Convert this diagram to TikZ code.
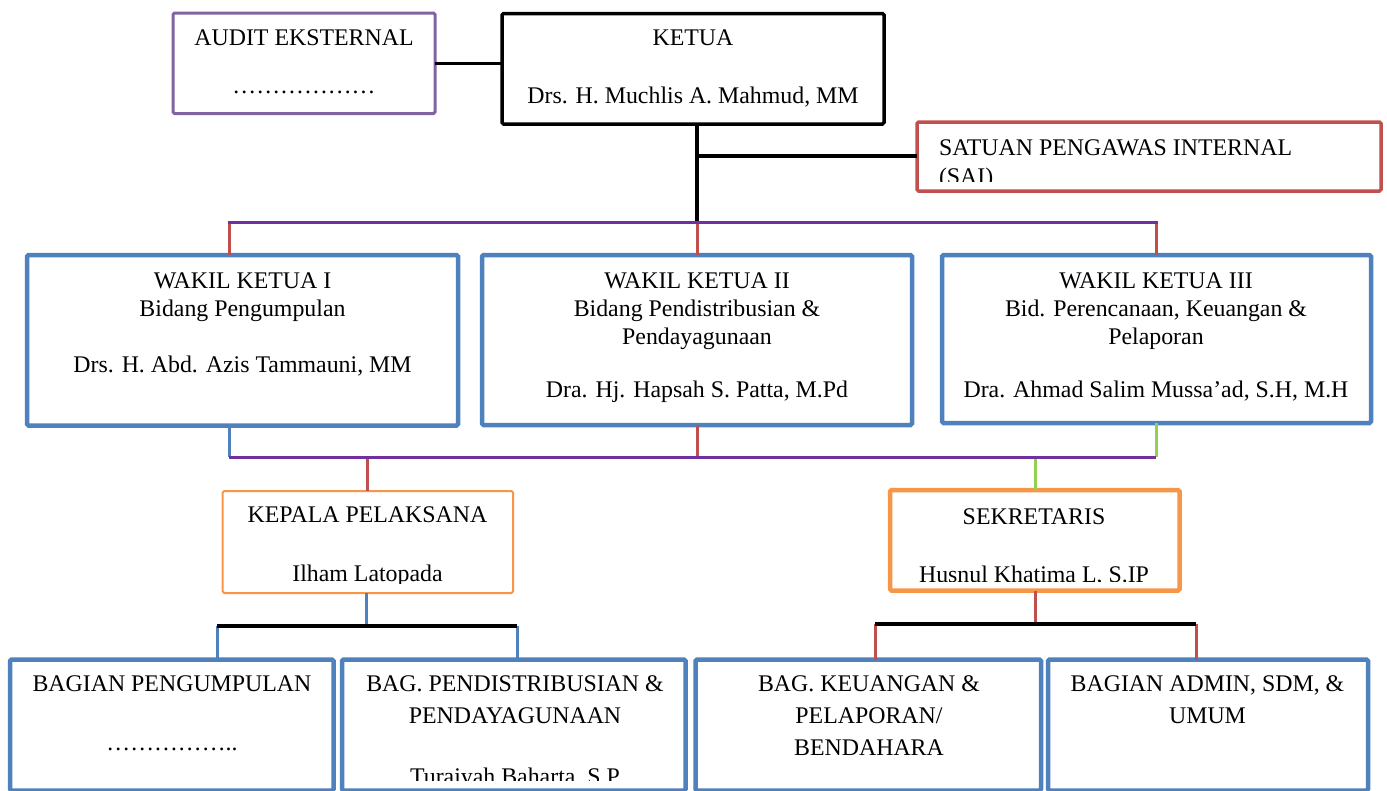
\documentclass[tikz,border=0pt]{standalone}
\usepackage{fontspec}
\setmainfont{Liberation Serif}
\definecolor{auditpurple}{HTML}{8064A2}
\definecolor{saired}{HTML}{C0504D}
\definecolor{boxblue}{HTML}{4F81BD}
\definecolor{boxorange}{HTML}{F79646}
\definecolor{buspurple}{HTML}{7030A0}
\definecolor{linkgreen}{HTML}{92D050}
\newcommand\orgfs{\fontsize{23.85pt}{28pt}\selectfont}
\newcommand\orgbox[6]{\node[#2, anchor=north west, minimum width={#5-#3}, minimum height={#6-#4}] (#1) at (#3,#4) {};}
\newcommand\tl[4]{\node[txt] (#1) at (#2,#3) {#4};}
\begin{document}
\begin{tikzpicture}[x=1pt,y=-1pt,
  bx/.style={draw, inner sep=0pt, outer sep=0pt, fill=white, rounded corners=1.5pt},
  txt/.style={inner sep=0pt, outer sep=0pt, anchor=base, font=\orgfs},
  txtl/.style={inner sep=0pt, outer sep=0pt, anchor=base west, font=\orgfs},
  blk/.style={draw=black, line width=3.5pt},
  pbus/.style={draw=buspurple, line width=3pt},
  rlink/.style={draw=saired, line width=3pt},
  blink/.style={draw=boxblue, line width=3pt},
  glink/.style={draw=linkgreen, line width=3pt}]
\useasboundingbox (0,0) rectangle (1387,790);

% boxes
\orgbox{audit}{bx, draw=auditpurple, line width=3pt}{173}{13}{435}{113.5}
\orgbox{ketua}{bx, draw=black, line width=3.5pt}{502}{13.5}{884}{124}
\orgbox{sai}{bx, draw=saired, line width=3.5pt}{917}{122}{1381}{191}
\orgbox{wk1}{bx, draw=boxblue, line width=4.5pt}{27}{255}{458}{425.5}
\orgbox{wk2}{bx, draw=boxblue, line width=4.5pt}{482}{255}{912}{425}
\orgbox{wk3}{bx, draw=boxblue, line width=4.5pt}{942}{255}{1371}{423}
\orgbox{kepala}{bx, draw=boxorange, line width=2pt}{222.7}{491}{513}{593}
\orgbox{sek}{bx, draw=boxorange, line width=4.5pt}{890}{490}{1179.5}{590.5}
\orgbox{bg1}{bx, draw=boxblue, line width=4.5pt}{10}{659.5}{333.5}{790.5}
\orgbox{bg2}{bx, draw=boxblue, line width=4.5pt}{342}{659.5}{685.5}{790.5}
\orgbox{bg3}{bx, draw=boxblue, line width=4.5pt}{695.5}{659.5}{1041}{790.5}
\orgbox{bg4}{bx, draw=boxblue, line width=4.5pt}{1048}{659.5}{1368}{790.5}

% bus coordinates
\coordinate (busAL) at (229,222);
\coordinate (busAM) at (697,222);
\coordinate (busAR) at (1156,222);
\coordinate (ksplit) at (697,156);
\coordinate (busBL) at (229,457);
\coordinate (busBM) at (697,457);
\coordinate (busBR) at (1156,457);
\coordinate (busBK) at (367,457);
\coordinate (busBS) at (1035.5,457);
\coordinate (busCL) at (217,626);
\coordinate (busCM) at (366,626);
\coordinate (busCR) at (517,626);
\coordinate (busDL) at (875,623.5);
\coordinate (busDM) at (1035,623.5);
\coordinate (busDR) at (1196,623.5);

% connectors top
\draw[blk] (audit.east) -- (audit.east -| ketua.west);
\draw[blk] (ketua.south -| busAM) -- (busAM);
\draw[blk] (ksplit) -- (ksplit -| sai.west);
\draw[rlink] (busAL) -- (busAL |- wk1.north);
\draw[rlink] (busAM) -- (busAM |- wk2.north);
\draw[rlink] (busAR) -- (busAR |- wk3.north);
\draw[pbus, line cap=rect] (busAL) -- (busAR);

% connectors middle
\draw[blink] (wk1.south -| busBL) -- (busBL);
\draw[rlink] (wk2.south -| busBM) -- (busBM);
\draw[glink] (wk3.south -| busBR) -- (busBR);
\draw[rlink] (busBK) -- (busBK |- kepala.north);
\draw[glink] (busBS) -- (busBS |- sek.north);
\draw[pbus] (busBL) -- (busBR);

% connectors bottom
\draw[blink] (kepala.south -| busCM) -- (busCM);
\draw[blink] (busCL) -- (busCL |- bg1.north);
\draw[blink] (busCR) -- (busCR |- bg2.north);
\draw[blk, line width=4pt] (busCL) -- (busCR);
\draw[rlink] (sek.south -| busDM) -- (busDM);
\draw[rlink] (busDL) -- (busDL |- bg3.north);
\draw[rlink] (busDR) -- (busDR |- bg4.north);
\draw[blk, line width=4pt] (busDL) -- (busDR);

% texts
\tl{ta1}{304}{45}{AUDIT EKSTERNAL}
\tl{ta2}{304}{93}{………………}
\tl{tk1}{693}{45}{KETUA}
\tl{tk2}{693}{103}{Drs. H. Muchlis A. Mahmud, MM}
\begin{scope}
  \clip (919,124) rectangle (1379,181.5);
  \node[txtl] (ts1) at (939,155) {SATUAN PENGAWAS INTERNAL};
  \node[txtl] (ts2) at (939,184) {(SAI)};
\end{scope}
\tl{tw11}{242.5}{288}{WAKIL KETUA I}
\tl{tw12}{242.5}{316}{Bidang Pengumpulan}
\tl{tw13}{242.5}{372}{Drs. H. Abd. Azis Tammauni, MM}
\tl{tw21}{697}{288}{WAKIL KETUA II}
\tl{tw22}{697}{316}{Bidang Pendistribusian \&}
\tl{tw23}{697}{344}{Pendayagunaan}
\tl{tw24}{697}{397}{Dra. Hj. Hapsah S. Patta, M.Pd}
\tl{tw31}{1156}{288}{WAKIL KETUA III}
\tl{tw32}{1156}{316}{Bid. Perencanaan, Keuangan \&}
\tl{tw33}{1156}{344}{Pelaporan}
\tl{tw34}{1156}{397}{Dra. Ahmad Salim Mussa’ad, S.H, M.H}
\tl{tkp1}{367.5}{522.7}{KEPALA PELAKSANA}
\begin{scope}
  \clip (224,493) rectangle (511,583.5);
  \tl{tkp2}{367.5}{581}{Ilham Latopada}
\end{scope}
\tl{tse1}{1034}{524}{SEKRETARIS}
\begin{scope}
  \clip (893,493) rectangle (1177,581.5);
  \tl{tse2}{1034}{582.5}{Husnul Khatima L, S.IP}
\end{scope}
\tl{tb11}{172}{691.7}{BAGIAN PENGUMPULAN}
\tl{tb12}{172}{750}{……………..}
\tl{tb21}{515}{691.7}{BAG. PENDISTRIBUSIAN \&}
\tl{tb22}{515}{723}{PENDAYAGUNAAN}
\begin{scope}
  \clip (345,662) rectangle (683,780);
  \tl{tb23}{515}{784}{Turaiyah Baharta, S.P}
\end{scope}
\tl{tb31}{869}{691.7}{BAG. KEUANGAN \&}
\tl{tb32}{869}{723}{PELAPORAN/}
\tl{tb33}{869}{755}{BENDAHARA}
\tl{tb41}{1207.5}{691.7}{BAGIAN ADMIN, SDM, \&}
\tl{tb42}{1207.5}{723}{UMUM}
\end{tikzpicture}
\end{document}
